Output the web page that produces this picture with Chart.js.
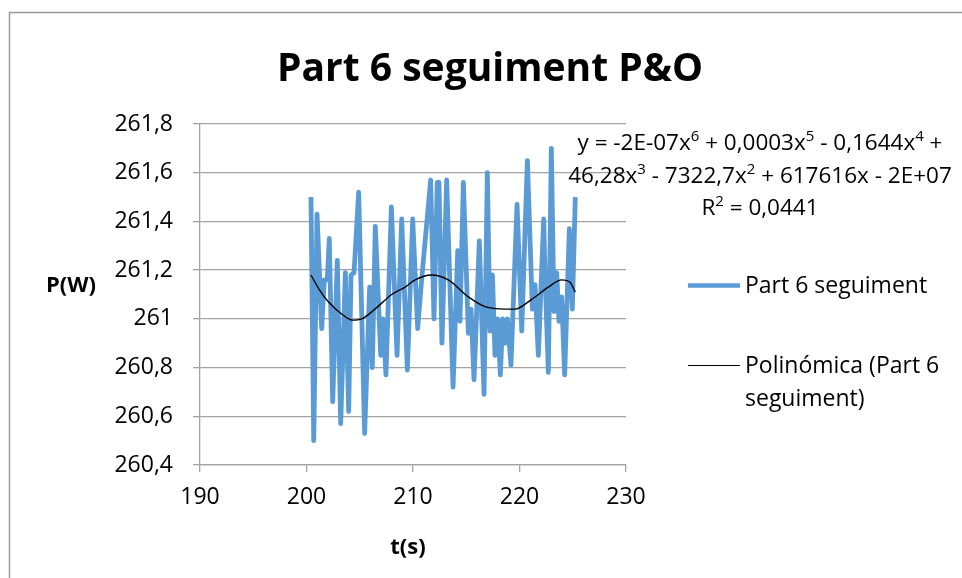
<!DOCTYPE html>
<html lang="es">
<head>
<meta charset="UTF-8">
<title>Part 6 seguiment P&amp;O</title>
<script src="https://cdn.jsdelivr.net/npm/chart.js@4.4.0/dist/chart.umd.min.js"></script>
<style>
    html, body { margin: 0; padding: 0; background: #fff; }
    #wrap { width: 962px; height: 578px; }
</style>
</head>
<body>
<div id="wrap"><canvas id="chart" width="962" height="578"></canvas></div>
<script>
const times = [200.42, 200.68, 200.99, 201.43, 201.67, 201.95, 202.14, 202.46, 202.89, 203.21,
    203.65, 203.96, 204.18, 204.46, 204.90, 205.46, 205.93, 206.18, 206.46, 206.97,
    207.18, 207.46, 207.97, 208.50, 208.94, 209.47, 209.97, 210.44, 210.81, 211.66,
    211.97, 212.28, 212.44, 212.72, 213.16, 213.76, 214.20, 214.41, 214.73, 215.20,
    215.45, 215.73, 216.23, 216.67, 216.98, 217.23, 217.46, 217.70, 217.95, 218.20,
    218.42, 218.64, 218.86, 219.20, 219.77, 220.21, 220.74, 221.21, 221.46, 221.77,
    222.27, 222.39, 222.71, 222.99, 223.24, 223.49, 223.71, 223.96, 224.24, 224.68,
    224.96, 225.24];
const power = [261.50, 260.50, 261.43, 260.96, 261.16, 261.16, 261.33, 260.66, 261.24, 260.57,
    261.19, 260.62, 261.18, 261.19, 261.52, 260.53, 261.13, 260.80, 261.38, 260.85,
    261.00, 260.77, 261.46, 260.85, 261.41, 260.79, 261.41, 260.96, 261.16, 261.57,
    261.00, 261.56, 261.56, 260.90, 261.57, 260.72, 261.28, 260.99, 261.56, 260.94,
    261.04, 260.75, 261.32, 260.69, 261.60, 260.95, 261.18, 260.85, 261.00, 260.77,
    261.00, 260.90, 261.00, 260.81, 261.47, 260.95, 261.65, 261.04, 261.14, 260.85,
    261.41, 261.19, 260.78, 261.70, 261.03, 261.19, 260.99, 261.09, 260.77, 261.37,
    261.04, 261.50];

// Polynomial trendline as drawn in the picture
const trendTimes = [200.42, 201.2, 202.05, 203.3, 204.3, 205.18, 206.43, 208.0, 209.25, 210.19,
    211.75, 213.31, 215.2, 216.76, 218.64, 219.58, 221.14, 222.71, 223.96, 224.74, 225.24];
const trendPower = [261.18, 261.12, 261.07, 261.02, 260.995, 261.0, 261.04, 261.10, 261.13, 261.16,
    261.18, 261.16, 261.09, 261.05, 261.04, 261.04, 261.08, 261.13, 261.16, 261.15, 261.11];

const xTickValues = [190, 200, 210, 220, 230];
const yTickValues = [260.4, 260.6, 260.8, 261.0, 261.2, 261.4, 261.6, 261.8];

const FONT = '"Open Sans", "DejaVu Sans", sans-serif';
const gridColor = '#a3a3a3';

function fmt(v) {
    return String(Math.round(v * 10) / 10).replace('.', ',');
}

// draws a line of text with superscripts, centred on cx
function drawRich(ctx, parts, cx, y, size) {
    const supSize = Math.round(size * 0.66);
    let w = 0;
    parts.forEach(p => {
        ctx.font = (p[1] ? supSize : size) + 'px ' + FONT;
        w += ctx.measureText(p[0]).width;
    });
    let x = cx - w / 2;
    parts.forEach(p => {
        ctx.font = (p[1] ? supSize : size) + 'px ' + FONT;
        ctx.fillText(p[0], x, p[1] ? y - size * 0.38 : y);
        x += ctx.measureText(p[0]).width;
    });
}

const decorations = {
    id: 'decorations',
    afterDraw(chart) {
        const ctx = chart.ctx;
        ctx.save();

        // outer frame (top + left visible)
        ctx.strokeStyle = '#9a9a9a';
        ctx.lineWidth = 1.5;
        ctx.beginPath();
        ctx.moveTo(9.5, 578);
        ctx.lineTo(9.5, 12.5);
        ctx.lineTo(962, 12.5);
        ctx.stroke();

        ctx.fillStyle = '#000';
        ctx.textBaseline = 'alphabetic';

        // title
        ctx.textAlign = 'center';
        ctx.font = 'bold 39px ' + FONT;
        ctx.fillText('Part 6 seguiment P&O', 490, 81);

        // axis titles
        ctx.font = 'bold 22px ' + FONT;
        ctx.fillText('P(W)', 71, 292);
        ctx.fillText('t(s)', 408, 554);

        // trendline equation
        ctx.textAlign = 'left';
        drawRich(ctx, [['y = -2E-07x'], ['6', 1], [' + 0,0003x'], ['5', 1], [' - 0,1644x'], ['4', 1], [' +']], 760, 150, 22.5);
        drawRich(ctx, [['46,28x'], ['3', 1], [' - 7322,7x'], ['2', 1], [' + 617616x - 2E+07']], 760, 183, 22.5);
        drawRich(ctx, [['R'], ['2', 1], [' = 0,0441']], 760, 215, 22.5);

        // legend
        ctx.lineCap = 'butt';
        ctx.strokeStyle = '#5b9bd5';
        ctx.lineWidth = 4.5;
        ctx.beginPath();
        ctx.moveTo(688, 285.5);
        ctx.lineTo(740, 285.5);
        ctx.stroke();
        ctx.strokeStyle = '#000';
        ctx.lineWidth = 1.2;
        ctx.beginPath();
        ctx.moveTo(688, 365.5);
        ctx.lineTo(740, 365.5);
        ctx.stroke();

        ctx.font = '23px ' + FONT;
        ctx.fillText('Part 6 seguiment', 745, 293);
        ctx.fillText('Polinómica (Part 6', 745, 373);
        ctx.fillText('seguiment)', 745, 406);

        ctx.restore();
    }
};

new Chart(document.getElementById('chart'), {
    type: 'line',
    data: {
        datasets: [
            {
                label: 'Polinómica (Part 6 seguiment)',
                data: trendTimes.map((t, i) => ({ x: t, y: trendPower[i] })),
                borderColor: '#000',
                borderWidth: 1.4,
                pointRadius: 0,
                cubicInterpolationMode: 'monotone',
                fill: false,
                order: 0
            },
            {
                label: 'Part 6 seguiment',
                data: times.map((t, i) => ({ x: t, y: power[i] })),
                borderColor: '#5b9bd5',
                borderWidth: 4.8,
                borderJoinStyle: 'round',
                pointRadius: 0,
                tension: 0,
                fill: false,
                order: 1
            }
        ]
    },
    options: {
        responsive: false,
        animation: false,
        devicePixelRatio: 1,
        layout: { padding: { left: 0, right: 336, top: 124, bottom: 0 } },
        plugins: {
            legend: { display: false },
            title: { display: false },
            tooltip: { enabled: false }
        },
        scales: {
            x: {
                type: 'linear',
                min: 190,
                max: 230,
                afterBuildTicks: s => { s.ticks = xTickValues.map(v => ({ value: v })); },
                afterFit: s => { s.height = 113; },
                grid: { drawOnChartArea: false, color: gridColor, tickLength: 7, lineWidth: 1.3 },
                border: { color: gridColor, width: 1.3 },
                ticks: { color: '#000', font: { family: FONT, size: 23 }, padding: 12, maxRotation: 0 }
            },
            y: {
                type: 'linear',
                min: 260.4,
                max: 261.8,
                afterBuildTicks: s => { s.ticks = yTickValues.map(v => ({ value: v })); },
                afterFit: s => { s.width = 200; },
                grid: { color: gridColor, tickLength: 7, lineWidth: 1.3 },
                border: { color: gridColor, width: 1.3 },
                ticks: { color: '#000', font: { family: FONT, size: 23 }, padding: 20, callback: v => fmt(v) }
            }
        }
    },
    plugins: [decorations]
});
</script>
</body>
</html>
